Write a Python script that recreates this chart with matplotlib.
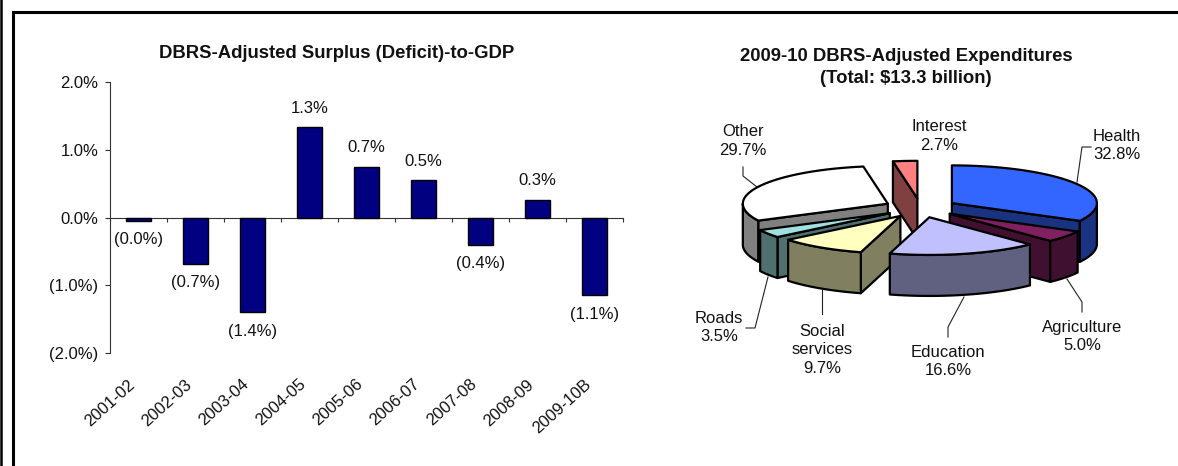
#!/usr/bin/python

import matplotlib
matplotlib.use('Agg')
import matplotlib.pyplot as plt
import numpy as np
from matplotlib.patches import Polygon

W, H = 1178, 466

years = ['2001-02', '2002-03', '2003-04', '2004-05', '2005-06',
         '2006-07', '2007-08', '2008-09', '2009-10B']
surplus = [-0.05, -0.68, -1.40, 1.33, 0.75, 0.55, -0.40, 0.265, -1.15]
surplus_labels = ['(0.0%)', '(0.7%)', '(1.4%)', '1.3%', '0.7%', '0.5%',
                  '(0.4%)', '0.3%', '(1.1%)']
y_ticks = [-2, -1, 0, 1, 2]
y_tick_labels = ['(2.0%)', '(1.0%)', '0.0%', '1.0%', '2.0%']

sectors = ['Health', 'Agriculture', 'Education', 'Social\nservices',
           'Roads', 'Other', 'Interest']
shares = [32.8, 5.0, 16.6, 9.7, 3.5, 29.7, 2.7]

top_colors = ['#3366FF', '#802060', '#C0C0FF', '#FFFFC0',
              '#A0E0E0', '#FFFFFF', '#FF8080']
side_colors = ['#1A3380', '#401030', '#606080', '#808060',
               '#507070', '#808080', '#804040']
# back to front, so nearer slices cover farther ones
draw_order = [6, 5, 0, 4, 1, 3, 2]

# pie geometry, in pixels of the picture
CX, CY = 920.5, 208.0
RADIUS = 145.0
SQUASH = 0.26
DEPTH = 41.0
EXPLODE = 36.6

TEXT = '#111111'
SIZE = 12

# label centre, and leader line (or None)
label_pos = [(1117, 145.5), (1082, 336.5), (948, 361.5), (822, 350),
             (719, 327.5), (743, 141), (939, 136)]
leaders = [
    [(1077, 182), (1082, 147), (1091, 147)],
    [(1067, 279), (1082, 302), (1082, 312)],
    [(964, 297), (948, 327), (948, 337)],
    [(822, 290), (822, 314)],
    [(768, 277), (755, 328), (746, 328)],
    [(757, 187), (743, 176), (743, 167)],
    None,
]


def outlined(color, sx, sy):
    return Polygon(np.column_stack([sx, sy]), closed=True, facecolor=color,
                   edgecolor='black', linewidth=1.6, joinstyle='round')


def rim(apex, theta):
    return (apex[0] + RADIUS * np.sin(theta),
            apex[1] - RADIUS * SQUASH * np.cos(theta))


def draw_slice(ax, start, end, top, side):
    mid = (start + end) / 2.
    apex = (CX + EXPLODE * np.sin(mid),
            CY - EXPLODE * SQUASH * np.cos(mid))

    # the radial walls that face the viewer
    for theta, seen in ((start, np.sin(start) < -1e-6),
                        (end, np.sin(end) > 1e-6)):
        if seen:
            px, py = rim(apex, theta)
            ax.add_patch(outlined(side,
                                  [apex[0], px, px, apex[0]],
                                  [apex[1], py, py + DEPTH, apex[1] + DEPTH]))

    # the outer wall, only the front half of the circle shows
    lo = max(start, np.pi / 2.)
    hi = min(end, 3. * np.pi / 2.)
    if hi > lo:
        t = np.linspace(lo, hi, 60)
        px, py = rim(apex, t)
        ax.add_patch(outlined(side,
                              np.concatenate([px, px[::-1]]),
                              np.concatenate([py, py[::-1] + DEPTH])))

    t = np.linspace(start, end, 120)
    px, py = rim(apex, t)
    ax.add_patch(outlined(top,
                          np.concatenate([[apex[0]], px]),
                          np.concatenate([[apex[1]], py])))


def draw_pie(ax):
    edges = np.concatenate([[0.], np.cumsum(shares)]) / sum(shares) * 2. * np.pi
    for line in leaders:
        if line is not None:
            ax.plot(*zip(*line), color='#222222', linewidth=0.8, zorder=1)
    for i in draw_order:
        draw_slice(ax, edges[i], edges[i + 1], top_colors[i], side_colors[i])
    for name, share, (x, y) in zip(sectors, shares, label_pos):
        ax.text(x, y, '%s\n%.1f%%' % (name, share), ha='center', va='center',
                fontsize=SIZE, linespacing=1.3, color=TEXT)


def draw_bars(ax):
    x = np.arange(len(years))
    ax.bar(x, surplus, width=0.43, color='#000080', edgecolor='black',
           linewidth=1.0, zorder=3)
    ax.set_xlim(-0.5, len(years) - 0.5)
    ax.set_ylim(-2, 2)
    ax.set_yticks(y_ticks)
    ax.set_yticklabels(y_tick_labels)
    ax.tick_params(axis='y', length=3.4, width=0.8, pad=5, labelsize=SIZE,
                   color='#333333', labelcolor=TEXT)
    ax.set_xticks(list(x - 0.5) + [len(years) - 0.5])
    ax.set_xticklabels([])
    ax.tick_params(axis='x', length=2.9, width=0.8, color='#333333')

    for side in ('top', 'right'):
        ax.spines[side].set_visible(False)
    ax.spines['left'].set_linewidth(0.8)
    ax.spines['left'].set_color('#333333')
    # category axis sits on zero, labels stay under the plot
    ax.spines['bottom'].set_position(('data', 0))
    ax.spines['bottom'].set_linewidth(0.8)
    ax.spines['bottom'].set_color('#333333')

    for xi, val, lab in zip(x, surplus, surplus_labels):
        off = 0.28 if val > 0 else -0.28
        ax.text(xi, val + off, lab, ha='center', va='center', fontsize=SIZE,
                color=TEXT)
    for xi, lab in zip(x, years):
        ax.annotate(lab, (xi, -2), xytext=(-8, -17), textcoords='offset points',
                    rotation=42, ha='right', va='top', rotation_mode='anchor',
                    fontsize=SIZE, color=TEXT)


def main():
    plt.rcParams['font.family'] = ['Liberation Sans', 'DejaVu Sans']
    fig = plt.figure(figsize=(W / 100., H / 100.), dpi=100, facecolor='white')

    back = fig.add_axes([0, 0, 1, 1])
    back.set_xlim(0, W)
    back.set_ylim(H, 0)
    back.axis('off')

    # page frame, cut off by the picture edges
    back.plot([13, 13], [H, 12], color='black', linewidth=2.2,
              solid_capstyle='projecting')
    back.plot([13, W], [12, 12], color='black', linewidth=2.2,
              solid_capstyle='projecting')
    back.plot([0.8, 0.8], [0, H], color='black', linewidth=1.8)

    back.text(336.5, 53.5, 'DBRS-Adjusted Surplus (Deficit)-to-GDP', ha='center',
              va='center', fontsize=13.3, fontweight='bold', color=TEXT)
    back.text(906, 67.5, '2009-10 DBRS-Adjusted Expenditures\n(Total: $13.3 billion)',
              ha='center', va='center', fontsize=13.3, fontweight='bold',
              linespacing=1.4, color=TEXT)
    draw_pie(back)

    left, right, top, bottom = 110, 623, 82, 353
    bar_ax = fig.add_axes([left / W, 1 - bottom / H,
                           (right - left) / W, (bottom - top) / H])
    bar_ax.patch.set_visible(False)
    draw_bars(bar_ax)

    fig.savefig('out.png', dpi=100)


if __name__ == '__main__':
    main()
